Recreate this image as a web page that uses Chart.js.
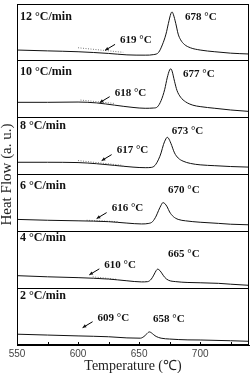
<!DOCTYPE html>
<html>
<head>
<meta charset="utf-8">
<script src="https://cdn.jsdelivr.net/npm/chart.js@4.4.1/dist/chart.umd.min.js"></script>
<style>
    html, body { margin: 0; padding: 0; background: #fff; }
</style>
</head>
<body>
<canvas id="dscChart" width="250" height="373"></canvas>
<script>
// Nhãn tốc độ gia nhiệt (từ trên xuống dưới)
const rateLabels = ['12 °C/min', '10 °C/min', '8 °C/min', '6 °C/min', '4 °C/min', '2 °C/min']
const onsetLabels = ['619 °C', '618 °C', '617 °C', '616 °C', '610 °C', '609 °C']
const peakLabels = ['678 °C', '677 °C', '673 °C', '670 °C', '665 °C', '658 °C']
const xTicks = [550, 600, 650, 700]

// Đường DSC: [nhiệt độ, tín hiệu trong ô (0..1)]
const curve12 = [[550, .19], [575, .175], [600, .16], [625, .13], [640, .105], [655, .10], [662, .11], [666, .15], [669, .28], [672, .47], [674, .66], [676, .83], [677, .86], [678, .82], [680, .66], [682, .47], [684, .37], [687, .29], [692, .23], [700, .19], [712, .16], [725, .135], [740, .12]]
const curve10 = [[550, .27], [575, .27], [600, .275], [615, .26], [630, .22], [645, .18], [655, .165], [662, .17], [665, .19], [668, .30], [671, .50], [673, .70], [675, .84], [676, .86], [677, .82], [679, .64], [681, .48], [684, .36], [688, .28], [694, .22], [700, .195], [712, .165], [725, .135], [740, .11]]
const curve8 = [[550, .215], [575, .215], [600, .21], [615, .19], [630, .16], [645, .13], [655, .12], [660, .125], [663, .16], [666, .27], [668, .38], [670, .53], [672, .63], [673, .655], [674, .64], [676, .55], [679, .38], [682, .29], [686, .235], [692, .195], [700, .17], [712, .155], [725, .14], [740, .13]]
const curve6 = [[550, .21], [575, .195], [600, .185], [625, .17], [640, .145], [652, .13], [658, .14], [661, .17], [664, .27], [666, .37], [668, .46], [669.5, .505], [671, .49], [673, .43], [675, .34], [678, .26], [682, .21], [688, .185], [700, .16], [715, .14], [725, .125], [740, .115]]
const curve4 = [[550, .22], [575, .20], [600, .185], [625, .16], [640, .13], [652, .11], [657, .115], [660, .16], [662, .23], [664, .31], [665.2, .335], [667, .31], [669, .25], [671, .19], [674, .14], [680, .115], [690, .10], [700, .095], [715, .085], [725, .07], [740, .05]]
const curve2 = [[550, .19], [575, .175], [600, .16], [625, .145], [640, .125], [651, .12], [654, .15], [656, .19], [658.4, .23], [660, .215], [662, .18], [664, .15], [668, .12], [675, .105], [690, .09], [700, .088], [725, .075], [740, .065]]

// Đường tiếp tuyến (chấm) tại điểm bắt đầu
const tangent12 = [[600, .23], [637, .15]]
const tangent10 = [[602, .31], [630, .25]]
const tangent8 = [[600, .245], [637, .16]]
const tangent6 = [[607, .195], [633, .17]]
const tangent4 = [[612, .20], [632, .155]]

const curves = [curve12, curve10, curve8, curve6, curve4, curve2]
const tangents = [tangent12, tangent10, tangent8, tangent6, tangent4]

// Mỗi ô cao 1 đơn vị, ô trên cùng có offset 5
const toPoints = (curve, panel) => curve.map(([t, v]) => ({ x: t, y: v + (5 - panel) }))

const datasets = []
curves.forEach((curve, i) => {
    datasets.push({
        data: toPoints(curve, i),
        borderColor: '#111',
        borderWidth: 1,
        pointRadius: 0,
        cubicInterpolationMode: 'monotone'
    })
})
tangents.forEach((tangent, i) => {
    datasets.push({
        data: toPoints(tangent, i),
        borderColor: '#777',
        borderWidth: 1,
        borderDash: [1, 1.5],
        pointRadius: 0
    })
})

// Vị trí chữ (nhiệt độ, vị trí trong ô)
const peakPos = [[687.6, .77], [686, .77], [676.7, .77], [673.7, .72], [673.7, .59], [661.4, .46]]
const onsetPos = [[634.4, .36], [630, .44], [631.6, .42], [627.5, .40], [621.5, .41], [616, .48]]
const rateTop = [13, 11, 8, 11, 7, 8]

const annotatePlugin = {
    id: 'annotate',
    afterDatasetsDraw(chart) {
        const { ctx, chartArea: area, scales: { x, y } } = chart
        ctx.save()

        // Khung
        ctx.strokeStyle = '#000'
        ctx.lineWidth = 1
        ctx.strokeRect(area.left + 0.5, area.top + 0.5, area.right - area.left - 1, area.bottom - area.top - 1)

        // Vạch chia hướng vào trong
        x.ticks.forEach(tick => {
            const px = Math.round(x.getPixelForValue(tick.value)) + 0.5
            ctx.beginPath()
            ctx.moveTo(px, area.bottom)
            ctx.lineTo(px, area.bottom - 3)
            ctx.stroke()
        })

        ctx.fillStyle = '#111'
        ctx.textBaseline = 'middle'
        ctx.textAlign = 'left'

        rateLabels.forEach((label, i) => {
            const top = y.getPixelForValue(6 - i)
            ctx.font = 'bold 12px "Liberation Serif"'
            ctx.fillText(label, area.left + 3, top + rateTop[i])

            ctx.font = 'bold 11px "Liberation Serif"'
            const [pt, pv] = peakPos[i]
            ctx.fillText(peakLabels[i], x.getPixelForValue(pt), y.getPixelForValue(pv + 5 - i))

            const [ot, ov] = onsetPos[i]
            const lx = x.getPixelForValue(ot)
            const ly = y.getPixelForValue(ov + 5 - i)
            ctx.fillText(onsetLabels[i], lx, ly)

            // Mũi tên
            const sx = lx - 5, sy = ly + 4, ex = lx - 15, ey = ly + 10
            ctx.beginPath()
            ctx.moveTo(sx, sy)
            ctx.lineTo(ex, ey)
            ctx.stroke()
            const ang = Math.atan2(ey - sy, ex - sx)
            ctx.beginPath()
            ctx.moveTo(ex, ey)
            ctx.lineTo(ex - 4 * Math.cos(ang - 0.45), ey - 4 * Math.sin(ang - 0.45))
            ctx.lineTo(ex - 4 * Math.cos(ang + 0.45), ey - 4 * Math.sin(ang + 0.45))
            ctx.closePath()
            ctx.fill()
        })

        ctx.restore()
    }
}

new Chart(document.getElementById('dscChart'), {
    type: 'line',
    data: { datasets },
    options: {
        responsive: false,
        animation: false,
        events: [],
        layout: { padding: { top: 4, right: 1, left: 0, bottom: 0 } },
        plugins: { legend: { display: false }, tooltip: { enabled: false } },
        scales: {
            x: {
                type: 'linear',
                min: 550,
                max: 740,
                afterFit: s => { s.height = 28 },
                grid: { display: false, drawTicks: false },
                border: { display: true, color: '#000' },
                ticks: {
                    stepSize: 25,
                    includeBounds: false,
                    autoSkip: false,
                    maxRotation: 0,
                    padding: 3,
                    color: '#444',
                    font: { family: 'Liberation Sans', size: 10 },
                    callback: v => xTicks.includes(v) ? String(v) : ''
                },
                title: {
                    display: true,
                    text: 'Temperature (℃)',
                    color: '#222',
                    padding: 0,
                    font: { family: 'Liberation Serif', size: 14, lineHeight: '13px' }
                }
            },
            y: {
                min: 0,
                max: 6,
                afterFit: s => { s.width = 17 },
                grid: { color: '#000', lineWidth: 1, drawTicks: false },
                border: { display: true, color: '#000' },
                ticks: { stepSize: 1, display: false },
                title: {
                    display: true,
                    text: 'Heat Flow (a. u.)',
                    color: '#222',
                    padding: 0,
                    font: { family: 'Liberation Serif', size: 15, lineHeight: '14px' }
                }
            }
        }
    },
    plugins: [annotatePlugin]
})
</script>
</body>
</html>
